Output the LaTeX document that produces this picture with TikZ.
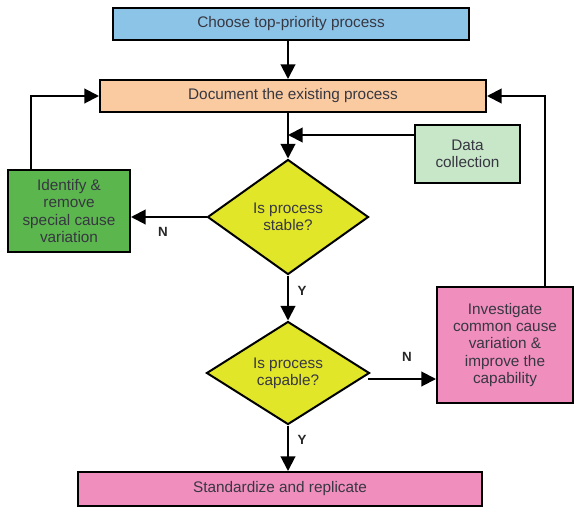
\documentclass[tikz,border=0pt]{standalone}
\usepackage{fontspec}
\setmainfont{Liberation Sans}
\usetikzlibrary{arrows.meta,shapes.geometric}
\definecolor{cblue}{RGB}{140,196,232}
\definecolor{corange}{RGB}{250,202,160}
\definecolor{cdata}{RGB}{200,230,200}
\definecolor{cgreen}{RGB}{92,182,78}
\definecolor{cyellow}{RGB}{226,230,40}
\definecolor{cpink}{RGB}{240,142,190}
\definecolor{ctext}{RGB}{55,55,65}
\tikzset{
  box/.style={draw=black,line width=1.5pt,rectangle,inner sep=1pt,align=center,text=ctext,font=\fontsize{11.5}{13}\selectfont},
  dec/.style={draw=black,line width=1.5pt,diamond,aspect=1.4,inner sep=0pt,align=center,text=ctext,font=\fontsize{11.5}{13}\selectfont,fill=cyellow},
  conn/.style={line width=1.5pt,-{Triangle[length=11pt,width=11pt]}},
  lbl/.style={font=\bfseries\fontsize{10}{11}\selectfont,text=black!85}
}
\begin{document}
\begin{tikzpicture}[x=0.75pt,y=-0.75pt]
\useasboundingbox (0,0) rectangle (574,507);
\node[box,fill=cblue,minimum width=356*0.75pt,minimum height=32*0.75pt] (top) at (291,24) {Choose top-priority process};
\node[box,fill=corange,minimum width=386*0.75pt,minimum height=32*0.75pt] (doc) at (293,96) {Document the existing process};
\node[box,fill=cdata,minimum width=105*0.75pt,minimum height=58*0.75pt] (data) at (467.5,154) {Data\\collection};
\node[box,fill=cgreen,minimum width=122*0.75pt,minimum height=82*0.75pt] (ident) at (69,211) {Identify \&\\remove\\special cause\\variation};
\node[dec,minimum width=161*0.75pt,minimum height=115*0.75pt] (stable) at (288,217) {Is process\\stable?};
\node[dec,minimum width=163*0.75pt,minimum height=103*0.75pt] (capable) at (288,373) {Is process\\capable?};
\node[box,fill=cpink,minimum width=136*0.75pt,minimum height=116*0.75pt] (inv) at (505,345) {Investigate\\common cause\\variation \&\\improve the\\capability};
\node[box,fill=cpink,minimum width=404*0.75pt,minimum height=34*0.75pt] (std) at (280,489) {Standardize and replicate};

\draw[conn] (top.south -| 288,0) -- (doc.north -| 288,0);
\draw[conn] (doc.south -| stable.north) -- (stable.north);
\coordinate (dj) at (288,135);
\draw[conn] (data.west |- dj) -- (dj);
\draw[conn] (stable.west) -- (ident.east |- stable.west);
\draw[conn] (stable.south) -- (capable.north);
\draw[conn] (capable.south) -- (std.north -| capable.south);
\coordinate (cn) at (368,379);
\draw[conn] (cn) -- (inv.west |- cn);
\draw[conn] (ident.north -| 31,0) |- (doc.west);
\draw[conn] (inv.north -| 545,0) |- (doc.east);

\node[lbl] (n1) at (163,232) {N};
\node[lbl] (y1) at (302,291) {Y};
\node[lbl] (n2) at (407,357) {N};
\node[lbl] (y2) at (302,440) {Y};
\end{tikzpicture}
\end{document}
